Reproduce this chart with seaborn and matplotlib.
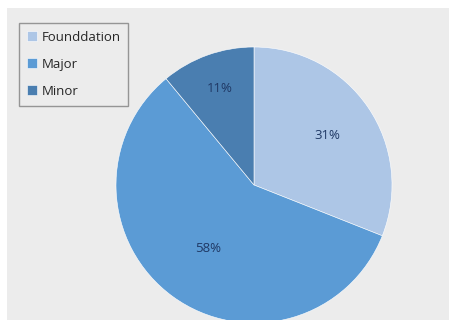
import matplotlib
matplotlib.use("Agg")
import matplotlib.pyplot as plt
import seaborn as sns
import numpy as np

categories = ["Founddation", "Major", "Minor"]
values = [31, 58, 11]
colors = ["#adc6e6", "#5b9bd5", "#4a7eb0"]
label_dist = [0.64, 0.57, 0.74]

sns.set_theme(style="white")
plt.rcParams['font.family'] = ['Open Sans', 'DejaVu Sans']

fig = plt.figure(figsize=(4.5, 3.2), dpi=100)
fig.patch.set_facecolor("white")
bgax = fig.add_axes([7/450, 0, 442/450, 1 - 8/320])
bgax.set_facecolor("#ececec")
bgax.set_xticks([]); bgax.set_yticks([])
for s in bgax.spines.values():
    s.set_visible(False)
bgax.set_zorder(0)

R = 138
cx, cy = 254, 185
ax = fig.add_axes([(cx - R)/450, 1 - (cy + R)/320, 2*R/450, 2*R/320])
ax.set_zorder(1)
ax.set_facecolor("none")
wedges, texts, autotexts = ax.pie(
    values, colors=colors, startangle=90, counterclock=False,
    autopct=lambda p: f"{p:.0f}%", pctdistance=0.64,
    wedgeprops=dict(edgecolor="white", linewidth=0.4),
    textprops=dict(color="#1f3864", fontsize=9.5))
for w, t, d in zip(wedges, autotexts, label_dist):
    mid = np.deg2rad((w.theta1 + w.theta2) / 2)
    t.set_position((d * np.cos(mid), d * np.sin(mid)))
ax.set_xlim(-1, 1)
ax.set_ylim(-1, 1)
ax.set_aspect("equal")
ax.axis("off")
for w in wedges:
    w.set_clip_on(False)

leg = fig.legend(wedges, categories, loc="upper left",
                 bbox_to_anchor=(19/450, 1 - 23/320), bbox_transform=fig.transFigure,
                 fancybox=False, frameon=True, fontsize=9.5, handlelength=0.75,
                 handleheight=0.75, handletextpad=0.35, labelspacing=1.05,
                 borderpad=0.6, borderaxespad=0)
leg.set_zorder(3)
leg.get_frame().set_edgecolor("#7f7f7f")
leg.get_frame().set_facecolor("#ececec")
leg.get_frame().set_linewidth(1.0)
for t in leg.get_texts():
    t.set_color("#262626")

fig.savefig("out.png", dpi=100)
